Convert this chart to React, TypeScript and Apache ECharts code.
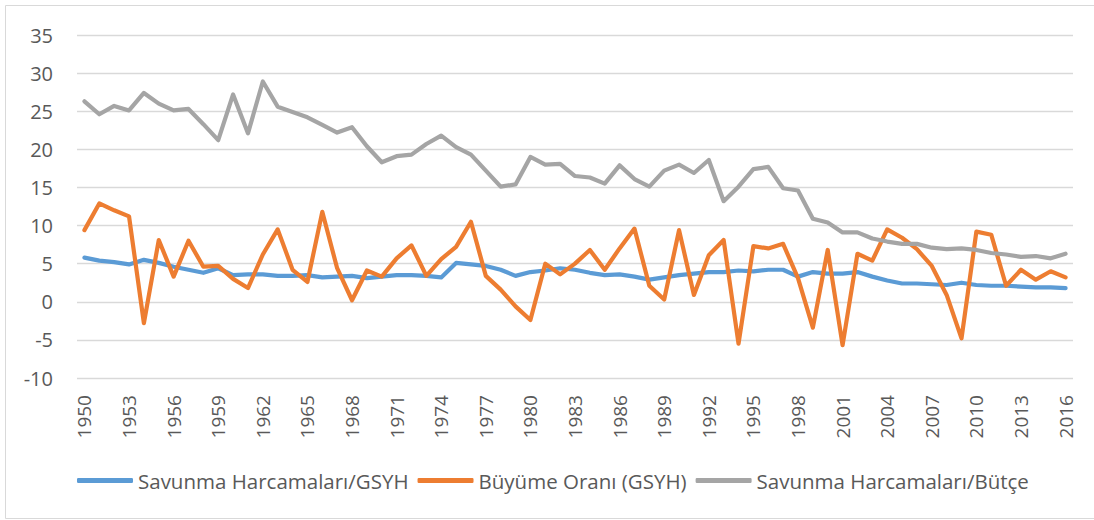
import React, { useEffect, useRef } from "react";
import * as echarts from "echarts";

const years: string[] = [];
for (let y = 1950; y <= 2016; y++) years.push(String(y));

const savunmaGsyh = [
  5.8, 5.4, 5.2, 4.9, 5.5, 5.1, 4.6, 4.2, 3.8, 4.4,
  3.5, 3.6, 3.6, 3.4, 3.4, 3.5, 3.2, 3.3, 3.4, 3.1,
  3.3, 3.5, 3.5, 3.4, 3.2, 5.1, 4.9, 4.7, 4.2, 3.4,
  3.9, 4.1, 4.4, 4.2, 3.8, 3.5, 3.6, 3.3, 2.9, 3.2,
  3.5, 3.7, 3.9, 3.9, 4.1, 4.0, 4.2, 4.2, 3.3, 3.9,
  3.7, 3.7, 3.9, 3.3, 2.8, 2.4, 2.4, 2.3, 2.2, 2.5,
  2.2, 2.1, 2.1, 2.0, 1.9, 1.9, 1.8,
];

const buyumeOrani = [
  9.4, 12.9, 12.0, 11.2, -2.8, 8.1, 3.3, 8.0, 4.6, 4.7,
  3.0, 1.8, 6.2, 9.5, 4.2, 2.6, 11.8, 4.4, 0.2, 4.1,
  3.3, 5.7, 7.4, 3.4, 5.6, 7.2, 10.5, 3.4, 1.6, -0.6,
  -2.4, 5.0, 3.6, 5.0, 6.8, 4.2, 7.0, 9.6, 2.1, 0.3,
  9.4, 0.9, 6.1, 8.1, -5.5, 7.3, 7.0, 7.6, 3.1, -3.4,
  6.8, -5.7, 6.3, 5.4, 9.5, 8.4, 6.9, 4.7, 0.9, -4.8,
  9.2, 8.8, 2.1, 4.2, 2.9, 4.0, 3.2,
];

const savunmaButce = [
  26.3, 24.6, 25.7, 25.1, 27.4, 26.0, 25.1, 25.3, 23.3, 21.2,
  27.2, 22.1, 28.9, 25.6, 24.9, 24.2, 23.2, 22.2, 22.9, 20.4,
  18.3, 19.1, 19.3, 20.7, 21.8, 20.3, 19.3, 17.2, 15.1, 15.4,
  19.0, 18.0, 18.1, 16.5, 16.3, 15.5, 17.9, 16.1, 15.1, 17.2,
  18.0, 16.9, 18.6, 13.2, 15.1, 17.4, 17.7, 14.9, 14.6, 10.9,
  10.4, 9.1, 9.1, 8.3, 7.9, 7.6, 7.6, 7.1, 6.9, 7.0,
  6.8, 6.4, 6.2, 5.9, 6.0, 5.7, 6.3,
];

const seriesNames = [
  "Savunma Harcamaları/GSYH",
  "Büyüme Oranı (GSYH)",
  "Savunma Harcamaları/Bütçe",
];
const colors = ["#5B9BD5", "#ED7D31", "#A5A5A5"];

export default function App() {
  const ref = useRef<HTMLDivElement>(null);
  useEffect(() => {
    if (!ref.current) return;
    const chart = echarts.init(ref.current, null, { renderer: "svg" });
    const font = "'Open Sans', sans-serif";
    const dataSets = [savunmaGsyh, buyumeOrani, savunmaButce];
    chart.setOption({
      animation: false,
      backgroundColor: "#ffffff",
      textStyle: { fontFamily: font },
      graphic: [
        {
          type: "rect",
          shape: { x: 5.5, y: 5.5, width: 1100, height: 513 },
          style: { fill: "none", stroke: "#D9D9D9", lineWidth: 1 },
          silent: true,
        },
      ],
      grid: { left: 77, top: 35, width: 996, height: 343 },
      legend: {
        left: 72,
        top: 465,
        itemGap: 9,
        itemWidth: 56,
        itemHeight: 5,
        icon: "roundRect",
        textStyle: { fontFamily: font, fontSize: 20.5, color: "#595959" },
        data: seriesNames,
      },
      xAxis: {
        type: "category",
        data: years,
        boundaryGap: true,
        axisLine: { show: false },
        axisTick: { show: false },
        axisLabel: {
          interval: 2,
          rotate: 90,
          margin: 17,
          fontFamily: font,
          fontSize: 19,
          color: "#595959",
        },
      },
      yAxis: {
        type: "value",
        min: -10,
        max: 35,
        interval: 5,
        axisLine: { show: false },
        axisTick: { show: false },
        axisLabel: {
          margin: 24,
          fontFamily: font,
          fontSize: 20,
          color: "#595959",
        },
        splitLine: { lineStyle: { color: "#D9D9D9", width: 1.3 } },
      },
      series: seriesNames.map((name, i) => ({
        name,
        type: "line",
        data: dataSets[i],
        symbol: "none",
        lineStyle: { color: colors[i], width: 4.2, cap: "round", join: "round" },
        itemStyle: { color: colors[i] },
      })),
    });
    return () => chart.dispose();
  }, []);
  return (
    <div
      ref={ref}
      style={{ position: "fixed", left: 0, top: 0, width: 1094, height: 520 }}
    />
  );
}
